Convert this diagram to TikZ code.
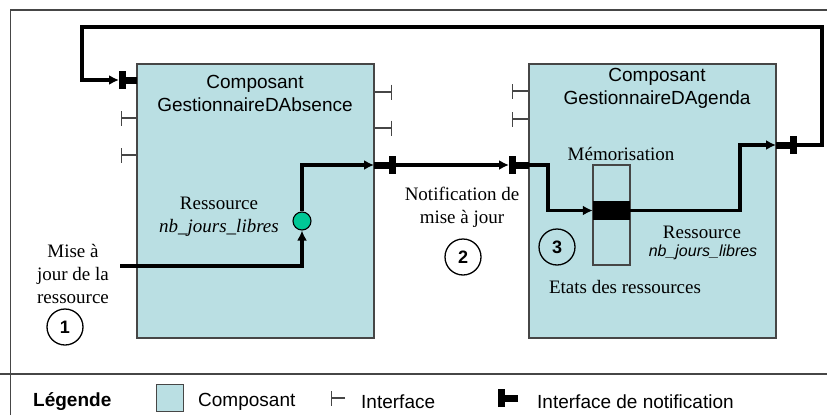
\documentclass[tikz,border=0pt]{standalone}
\usepackage{fontspec}
\setmainfont{Liberation Serif}
\setsansfont{Liberation Sans}
\usepackage{xcolor}
\usetikzlibrary{arrows.meta, positioning}
\definecolor{bleucomp}{RGB}{186,223,227}
\definecolor{vertres}{RGB}{0,200,150}
\definecolor{gristrait}{RGB}{70,70,70}
\tikzstyle{composant} = [rectangle, draw=gristrait, line width=1.6pt, fill=bleucomp, inner sep=0pt]
\tikzstyle{titre} = [font=\sffamily\fontsize{19}{23}\selectfont, align=center, inner sep=0pt]
\tikzstyle{texte} = [font=\fontsize{19}{23}\selectfont, align=center, inner sep=0pt]
\tikzstyle{numero} = [circle, draw=black, line width=1.3pt, minimum size=36pt, inner sep=0pt, font=\sffamily\bfseries\fontsize{18}{22}\selectfont]
\tikzstyle{arrow} = [line width=3.3pt, -{Latex[length=10pt,width=10pt]}]
\tikzstyle{notif} = [line width=7pt, -{Bar[width=18pt,line width=7pt]}]
\tikzstyle{iface} = [line width=1.4pt, draw=gristrait, -{Bar[width=15pt,line width=1.4pt]}]
\tikzstyle{cadre} = [line width=1.4pt, draw=gristrait]

\begin{document}
\begin{tikzpicture}[x=1pt, y=-1pt]
  \useasboundingbox (0,0) rectangle (827,415);
  % cadre
  \draw[cadre] (10.5,415) -- (10.5,10) -- (827,10);
  \draw[cadre] (0,374) -- (827,374);

  % composants
  \node (absence) [composant, minimum width=237pt, minimum height=274pt] at (255.5,201) {};
  \node (agenda) [composant, minimum width=247pt, minimum height=274pt] at (652.5,201) {};
  \node (titreA) [titre] at (255,93.5) {Composant\\GestionnaireDAbsence};
  \node (titreB) [titre] at (657,88.5) {Composant\\GestionnaireDAgenda};

  % memorisation
  \node (memoire) [rectangle, draw=gristrait, line width=1.3pt, fill=bleucomp, minimum width=37pt, minimum height=100pt, inner sep=0pt] at (611.5,215) {};
  \node (memcase) [rectangle, fill=black, minimum width=37pt, minimum height=19pt, inner sep=0pt] at (611.5,210.5) {};
  \node (memo) [texte] at (621,154) {Mémorisation};
  \node (etats) [texte] at (625,287) {Etats des ressources};
  \node (ressBtxt) [texte] at (702,232) {Ressource};
  \node (ressBnom) [texte, font=\sffamily\itshape\fontsize{16}{20}\selectfont] at (703,252) {nb\_jours\_libres};

  % ressource du composant A
  \node (ressA) [circle, draw=black, line width=1.1pt, fill=vertres, minimum size=18pt, inner sep=0pt] at (302,221) {};
  \node (ressAtxt) [texte] at (219,216.5) {Ressource\\\textit{nb\_jours\_libres}};

  % textes et numeros
  \node (misetxt) [texte] at (73,273.5) {Mise à\\jour de la\\ressource};
  \node (notiftxt) [texte] at (462,207.5) {Notification de\\mise à jour};
  \node (un) [numero] at (65,327) {1};
  \node (deux) [numero] at (463,257) {2};
  \node (trois) [numero] at (557,247) {3};

  % interfaces
  \foreach \y in {118,155} \draw[iface] (137,\y) -- (121,\y);
  \foreach \y in {92,128} \draw[iface] (374,\y) -- (392,\y);
  \foreach \y in {91,119} \draw[iface] (529,\y) -- (512,\y);

  % interfaces de notification
  \coordinate (nAin) at (137,80);
  \coordinate (nAinb) at (119,80);
  \coordinate (nAout) at (374,165);
  \coordinate (nAoutb) at (396,165);
  \coordinate (nBin) at (529,165);
  \coordinate (nBinb) at (509,165);
  \coordinate (nBout) at (776,145);
  \coordinate (nBoutb) at (797,145);
  \draw[notif] (nAin) -- (nAinb);
  \draw[notif] (nAout) -- (nAoutb);
  \draw[notif] (nBin) -- (nBinb);
  \draw[notif] (nBout) -- (nBoutb);

  % liaisons
  \coordinate (entreeA) at (120,266);
  \coordinate (coudeB) at (548,165);
  \coordinate (coinB) at (740,145);
  \coordinate (boucleD) at (822,27);
  \coordinate (boucleG) at (82,27);
  \draw[arrow] (entreeA) -| (ressA.south);
  \draw[arrow] (ressA.north) |- (nAout);
  \draw[arrow] (nAoutb) -- (nBinb);
  \draw[arrow] (nBin) -- (coudeB) |- (memcase.west);
  \draw[arrow] (memcase.east) -| (coinB) -- (nBout);
  \draw[arrow] (nBoutb) -| (boucleD) -- (boucleG) |- (nAinb);

  % legende
  \node (legende) [titre, font=\sffamily\bfseries\fontsize{19}{23}\selectfont, anchor=west] at (33,402) {Légende};
  \node (legcomp) [composant, line width=1.4pt, minimum width=27pt, minimum height=27pt] at (170,398) {};
  \node (legcomptxt) [titre, anchor=west] at (198,402) {Composant};
  \coordinate (legif) at (345,398);
  \coordinate (legifb) at (331,398);
  \draw[iface] (legif) -- (legifb);
  \node (legiftxt) [titre, anchor=west] at (361,402) {Interface};
  \coordinate (legnotif) at (518,398);
  \coordinate (legnotifb) at (498,398);
  \draw[notif] (legnotif) -- (legnotifb);
  \node (legnotiftxt) [titre, anchor=west] at (537,402) {Interface de notification};
\end{tikzpicture}
\end{document}
